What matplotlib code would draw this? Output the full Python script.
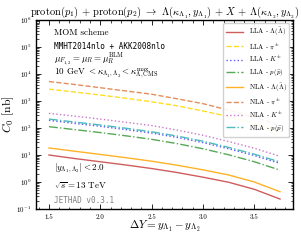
import matplotlib
matplotlib.use("Agg")
import matplotlib.pyplot as plt
import numpy as np

plt.rcParams['font.family'] = 'serif'
plt.rcParams['font.serif'] = ['cmr10', 'DejaVu Serif']
plt.rcParams['mathtext.fontset'] = 'cm'
plt.rcParams['axes.formatter.use_mathtext'] = True

dY = [1.5, 1.75, 2.0, 2.25, 2.5, 2.75, 3.0, 3.25, 3.5, 3.75]

lla_lambda = [10.0, 7.41, 5.62, 4.27, 3.16, 2.24, 1.51, 0.98, 0.537, 0.234]
lla_pion   = [2750, 2140, 1660, 1260, 933, 661, 427, 263, 145, 72.4]
lla_kaon   = [191, 148, 115, 87, 64.5, 44.6, 28.8, 17.0, 9.5, 4.9]
lla_proton = [112, 87.1, 67.6, 51.3, 38.0, 26.3, 17.0, 10.2, 5.62, 2.75]
nla_lambda = [18.2, 13.8, 10.5, 7.94, 5.89, 4.17, 2.82, 1.82, 1.00, 0.437]
nla_pion   = [5250, 4070, 3090, 2340, 1780, 1200, 794, 457, 251, 126]
nla_kaon   = [347, 275, 214, 162, 123, 83.2, 53.7, 31.6, 17.8, 8.9]
nla_proton = [214, 166, 129, 97.7, 72.4, 50.1, 32.4, 19.1, 10.7, 5.5]

labels = [r'LLA - $\Lambda(\bar\Lambda)$', r'LLA - $\pi^{\pm}$', r'LLA - $K^{\pm}$', r'LLA - $p(\bar p)$',
          r'NLA - $\Lambda(\bar\Lambda)$', r'NLA - $\pi^{\pm}$', r'NLA - $K^{\pm}$', r'NLA - $p(\bar p)$']

fig = plt.figure(figsize=(3.01, 2.40), dpi=100)
ax = fig.add_axes([0.12, 0.129, 0.853, 0.788])

series = [lla_lambda, lla_pion, lla_kaon, lla_proton, nla_lambda, nla_pion, nla_kaon, nla_proton]
styles = [('#c84040', '-'), ('#ffd700', '--'), ('#4040ff', ':'), ('#3a9a3a', '-.'),
          ('#ffa500', '-'), ('#e07a40', '--'), ('#c060c0', ':'), ('#30b0b0', '-.')]
for s, (c, ls), lab in zip(series, styles, labels):
    ax.plot(dY, s, color=c, ls=ls, lw=1.0, label=lab, alpha=0.85)

ax.set_yscale('log')
ax.set_ylim(1e-1, 1e6)
ax.set_xlim(1.375, 3.875)
ax.set_xticks([1.5, 2.0, 2.5, 3.0, 3.5])
ax.set_xticklabels(['1.5', '2.0', '2.5', '3.0', '3.5'])
ax.xaxis.set_minor_locator(matplotlib.ticker.MultipleLocator(0.1))
ax.tick_params(which='both', direction='in', top=True, right=True, labelsize=5)
ax.tick_params(which='major', length=3.5, width=0.6)
ax.tick_params(which='minor', length=1.8, width=0.5)
for sp in ax.spines.values():
    sp.set_linewidth(1.0)

ax.set_xlabel(r'$\Delta Y = y_{\Lambda_1} - y_{\Lambda_2}$', fontsize=8, labelpad=-1)
ax.set_ylabel(r'$C_0$ [nb]', fontsize=8.5, labelpad=0)
ax.set_title(r'proton$(p_1)$ + proton$(p_2)$ $\rightarrow$ $\Lambda(\kappa_{\Lambda_1}, y_{\Lambda_1})$ + $X$ + $\Lambda(\kappa_{\Lambda_2}, y_{\Lambda_2})$',
             fontsize=7.5, pad=3)

kw = dict(transform=ax.transAxes, fontsize=6.5, va='center', ha='left')
ax.text(0.07, 0.93, 'MOM scheme', **kw)
ax.text(0.07, 0.86, 'MMHT2014nlo + AKK2008nlo', family='monospace', fontsize=5.5,
        transform=ax.transAxes, va='center', ha='left')
ax.text(0.07, 0.79, r'$\mu_{F_{1,2}} = \mu_R = \mu_R^{\rm BLM}$', **kw)
ax.text(0.07, 0.715, r'10 GeV $< \kappa_{\Lambda_1,\Lambda_2} < \kappa^{\rm max}_{\Lambda,{\rm CMS}}$', **kw)
ax.text(0.07, 0.215, r'$|y_{\Lambda_1,\Lambda_2}| < 2.0$', **kw)
ax.text(0.07, 0.125, r'$\sqrt{s} = 13$ TeV', **kw)
ax.text(0.07, 0.045, 'JETHAD v0.3.1', family='monospace', fontsize=5.5, color='gray',
        transform=ax.transAxes, va='center', ha='left')

leg = ax.legend(loc='upper right', fontsize=5, frameon=True, handlelength=2.5,
                labelspacing=0.45, borderpad=0.4, framealpha=0.9, fancybox=True)

fig.savefig('out.png', dpi=100)
